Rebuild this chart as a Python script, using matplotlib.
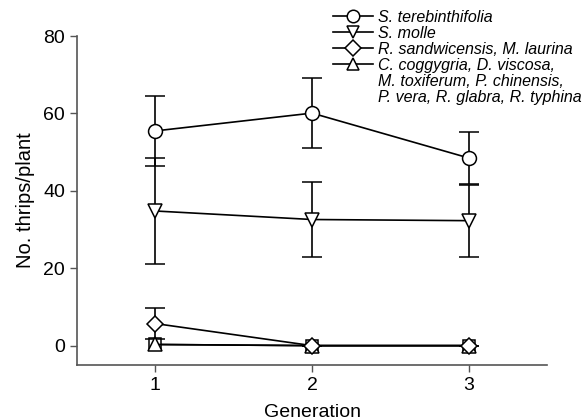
import numpy as np
import matplotlib.pyplot as plt
from matplotlib.lines import Line2D

plt.rcParams['font.family'] = ['Liberation Sans', 'DejaVu Sans']

geracoes = [1, 2, 3]

tere = [55.5, 60.1, 48.5]
tere_err = [9.0, 9.0, 6.8]

molle = [34.8, 32.6, 32.3]
molle_err = [13.7, 9.6, 9.3]

sandw = [5.7, 0.0, 0.0]
sandw_err = [4.1, 0.0, 0.0]

coggy = [0.3, 0.0, 0.0]
outros = [0.3, 0.0, 0.0]  # quadrado sem legenda

rotulos = [
    "S. terebinthifolia",
    "S. molle",
    "R. sandwicensis, M. laurina",
    "C. coggygria, D. viscosa,",
    "M. toxiferum, P. chinensis,",
    "P. vera, R. glabra, R. typhina",
]
marcadores = ["o", "v", "D", "^", None, None]

fig = plt.figure(figsize=(5.82, 4.2), dpi=100)
ax = fig.add_axes([0.1323, 0.131, 0.8077, 0.783])

estilo = dict(color="black", mfc="white", mec="black", lw=1.2, mew=1.1,
              ms=10, capsize=7, elinewidth=1.2, capthick=1.2)

ax.errorbar(geracoes, outros, marker="s", ms=9, color="black", mfc="white",
            mec="black", lw=1.2, mew=1.1, zorder=2)
ax.errorbar(geracoes, coggy, marker="^", zorder=3, **estilo)
ax.errorbar(geracoes, sandw, yerr=sandw_err, marker="D", zorder=3, **{**estilo, "ms": 8})
ax.errorbar(geracoes, molle, yerr=molle_err, marker="v", zorder=3, **estilo)
ax.errorbar(geracoes, tere, yerr=tere_err, marker="o", zorder=3, **estilo)

ax.set_xlim(0.5, 3.5)
ax.set_ylim(-5, 80)
ax.set_xticks(geracoes)
ax.set_yticks([0, 20, 40, 60, 80])
ax.tick_params(labelsize=14, length=5, width=1, color="#555555")
for lado in ["top", "right"]:
    ax.spines[lado].set_visible(False)
for lado in ["left", "bottom"]:
    ax.spines[lado].set_color("#555555")
    ax.spines[lado].set_linewidth(1.2)

ax.set_xlabel("Generation", fontsize=14, labelpad=7)
ax.set_ylabel("No. thrips/plant", fontsize=14.5, labelpad=6)

alcas = []
for m in marcadores:
    if m is None:
        alcas.append(Line2D([], [], color="none"))
    else:
        alcas.append(Line2D([], [], color="black", lw=1.2, marker=m, mfc="white",
                            mec="black", mew=1.1, ms=9 if m != "D" else 8))
fig.legend(alcas, rotulos, loc="upper left",
           bbox_to_anchor=(0.553, 1.004), frameon=False,
           prop={"style": "italic", "size": 11.5}, handlelength=2.5,
           handletextpad=0.3, labelspacing=0.07, borderpad=0.2)

fig.savefig("out.png", dpi=100)
